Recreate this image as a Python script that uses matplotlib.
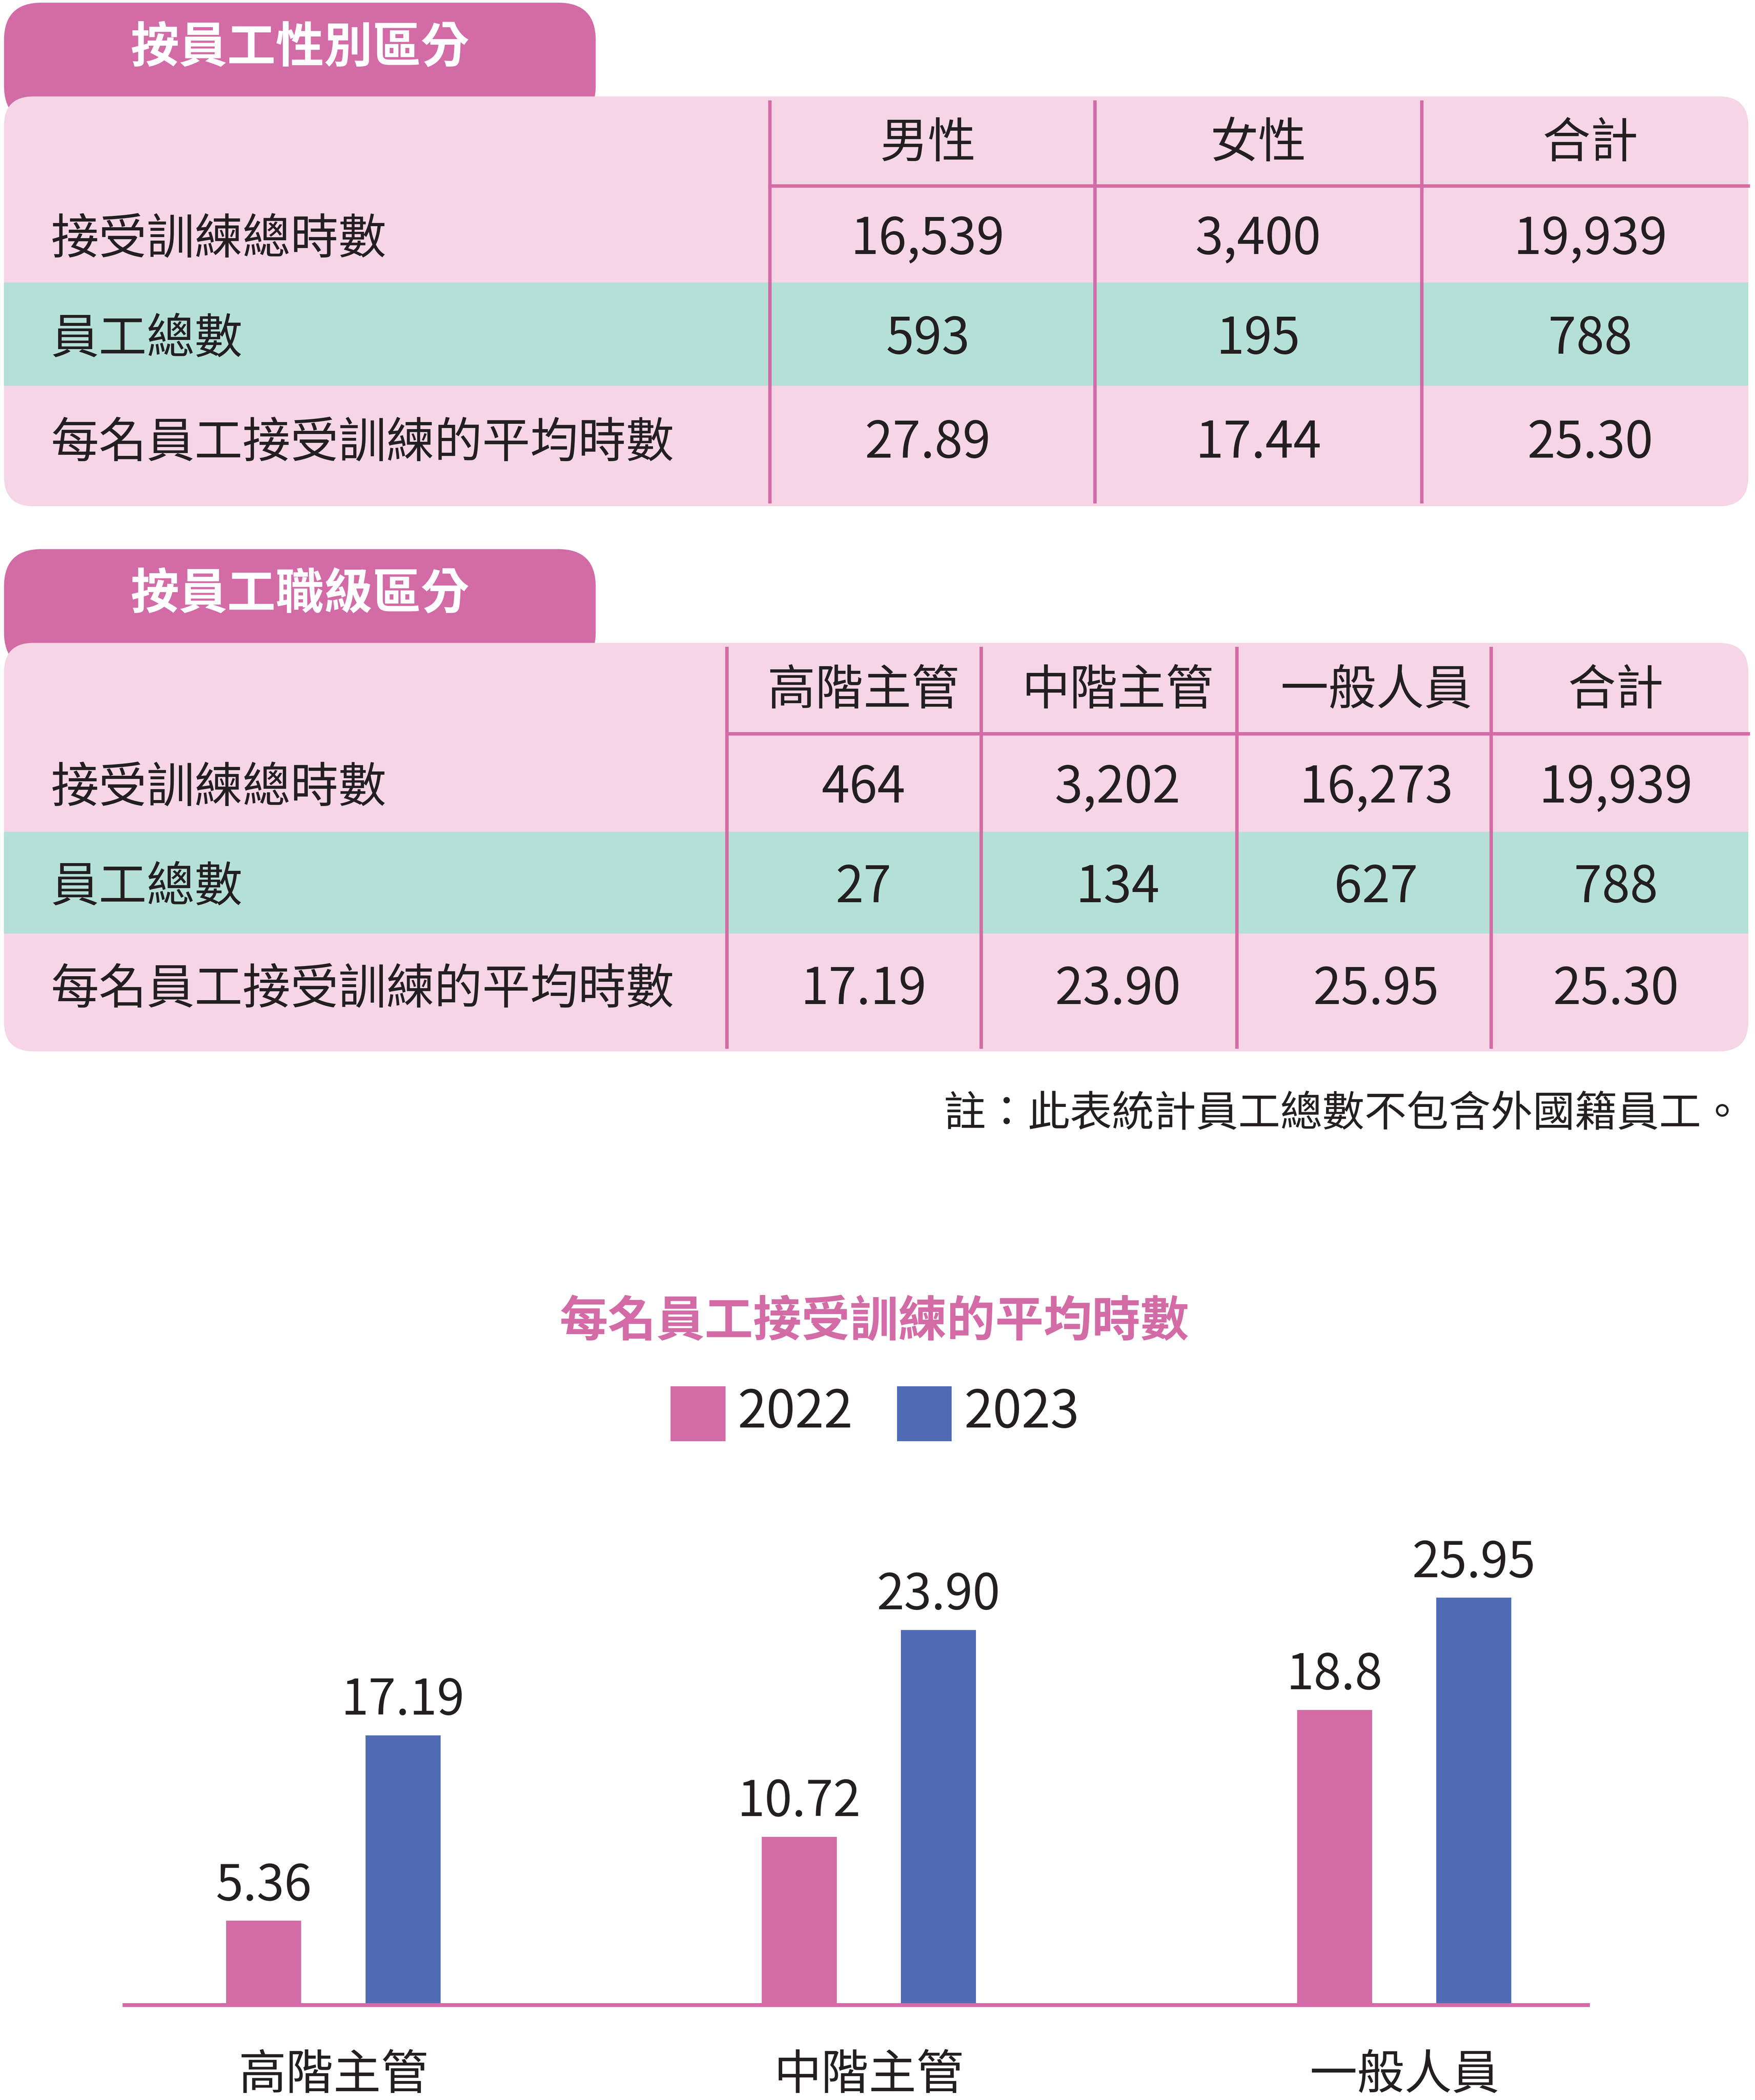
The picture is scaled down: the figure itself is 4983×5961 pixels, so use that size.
import matplotlib
matplotlib.use("Agg")
import matplotlib.pyplot as plt
from matplotlib.patches import FancyBboxPatch, Rectangle

FONT = "Noto Sans CJK TC"
plt.rcParams["font.family"] = FONT

# ---- data ----
t1_title = "按員工性別區分"
t1_cols = ["男性", "女性", "合計"]
row_labels = ["接受訓練總時數", "員工總數", "每名員工接受訓練的平均時數"]
t1_hours = ["16,539", "3,400", "19,939"]
t1_staff = ["593", "195", "788"]
t1_avg = ["27.89", "17.44", "25.30"]

t2_title = "按員工職級區分"
t2_cols = ["高階主管", "中階主管", "一般人員", "合計"]
t2_hours = ["464", "3,202", "16,273", "19,939"]
t2_staff = ["27", "134", "627", "788"]
t2_avg = ["17.19", "23.90", "25.95", "25.30"]

note = "註：此表統計員工總數不包含外國籍員工。"

chart_title = "每名員工接受訓練的平均時數"
categories = ["高階主管", "中階主管", "一般人員"]
series_names = ["2022", "2023"]
values_2022 = [5.36, 10.72, 18.8]
values_2023 = [17.19, 23.90, 25.95]
labels_2022 = ["5.36", "10.72", "18.8"]
labels_2023 = ["17.19", "23.90", "25.95"]

PINK = "#D36BA6"
LIGHT = "#F5D5E6"
TEAL = "#B5E0D8"
BLUE = "#4E6BB4"
TXT = "#231F20"

W, H = 1311, 1568
fig = plt.figure(figsize=(49.83, 59.61), dpi=100)
ax = fig.add_axes([0, 0, 1, 1])
ax.set_xlim(0, W)
ax.set_ylim(H, 0)
ax.axis("off")

def table(y0, title, cols, rows, vlines, centers, bands):
    ax.add_patch(FancyBboxPatch((3, y0 + 2), 442, 90, boxstyle="round,pad=0,rounding_size=28",
                                fc=PINK, ec="none", zorder=1))
    ax.text(224, y0 + 36, title, color="white", fontsize=99, fontweight="bold",
            ha="center", va="center", zorder=5)
    top = bands[0][0]
    bottom = bands[-1][1]
    ax.add_patch(FancyBboxPatch((3, top), 1303, bottom - top, boxstyle="round,pad=0,rounding_size=22",
                                fc=LIGHT, ec="none", zorder=2))
    ax.add_patch(Rectangle((3, bands[2][0]), 1303, bands[2][1] - bands[2][0], fc=TEAL, ec="none", zorder=3))
    for x in vlines:
        ax.plot([x, x], [top + 3, bottom - 2], color=PINK, lw=7, zorder=4, solid_capstyle="butt")
    ax.plot([vlines[0], 1306], [bands[0][1], bands[0][1]], color=PINK, lw=7, zorder=4)
    yc = [(a + b) / 2 for a, b in bands]
    for c, name in zip(centers, cols):
        ax.text(c, yc[0] + 2, name, fontsize=98, ha="center", va="center", color=TXT, zorder=5)
    for r, (lab, vals) in enumerate(zip(row_labels, rows)):
        y = yc[r + 1] + 4 - (6 if r == 2 else 0)
        ax.text(38, y, lab, fontsize=98, ha="left", va="center", color=TXT, zorder=5)
        for c, v in zip(centers, vals):
            ax.text(c, y, v, fontsize=103, ha="center", va="center", color=TXT, zorder=5)

table(0, t1_title, t1_cols, [t1_hours, t1_staff, t1_avg], [575, 818, 1062],
      [693, 940, 1188], [(72, 139), (139, 211), (211, 288), (288, 378)])
table(408, t2_title, t2_cols, [t2_hours, t2_staff, t2_avg], [543, 733, 924, 1114],
      [645, 835, 1028, 1207], [(480, 548), (548, 621), (621, 697), (697, 785)])

ax.text(705, 832, note, fontsize=86, ha="left", va="center", color=TXT, clip_on=False)

ax.text(653, 987, chart_title, fontsize=99, fontweight="bold", ha="center", va="center", color=PINK)
ax.add_patch(Rectangle((501, 1035), 41, 41, fc=PINK, ec="none"))
ax.text(551, 1055, series_names[0], fontsize=106, ha="left", va="center", color=TXT)
ax.add_patch(Rectangle((670, 1035), 41, 41, fc=BLUE, ec="none"))
ax.text(720, 1055, series_names[1], fontsize=106, ha="left", va="center", color=TXT)

bx0, bx1, by0, by1 = 93, 1186, 1497, 1100
bax = fig.add_axes([bx0 / W, (H - by0) / H, (bx1 - bx0) / W, (by0 - by1) / H])
scale = (1497 - 1193) / 25.95
bax.set_ylim(0, (by0 - by1) / scale)
bax.set_xlim(-156 / 400, 2 + 137 / 400)
xs = list(range(len(categories)))
off, bw = 52 / 400, 56 / 400
bax.bar([x - off for x in xs], values_2022, width=bw, color=PINK)
bax.bar([x + off for x in xs], values_2023, width=bw, color=BLUE)
for x, v, l in zip(xs, values_2022, labels_2022):
    bax.text(x - off, v + 0.6, l, fontsize=101, ha="center", va="bottom", color=TXT)
for x, v, l in zip(xs, values_2023, labels_2023):
    bax.text(x + off, v + 0.6, l, fontsize=101, ha="center", va="bottom", color=TXT)
for s in ["top", "right", "left"]:
    bax.spines[s].set_visible(False)
bax.spines["bottom"].set_color(PINK)
bax.spines["bottom"].set_linewidth(8)
bax.set_yticks([])
bax.set_xticks(xs)
bax.set_xticklabels(categories, fontsize=97, color=TXT)
bax.tick_params(axis="x", length=0, pad=95)
bax.patch.set_alpha(0)

fig.savefig("out.png", dpi=100)
